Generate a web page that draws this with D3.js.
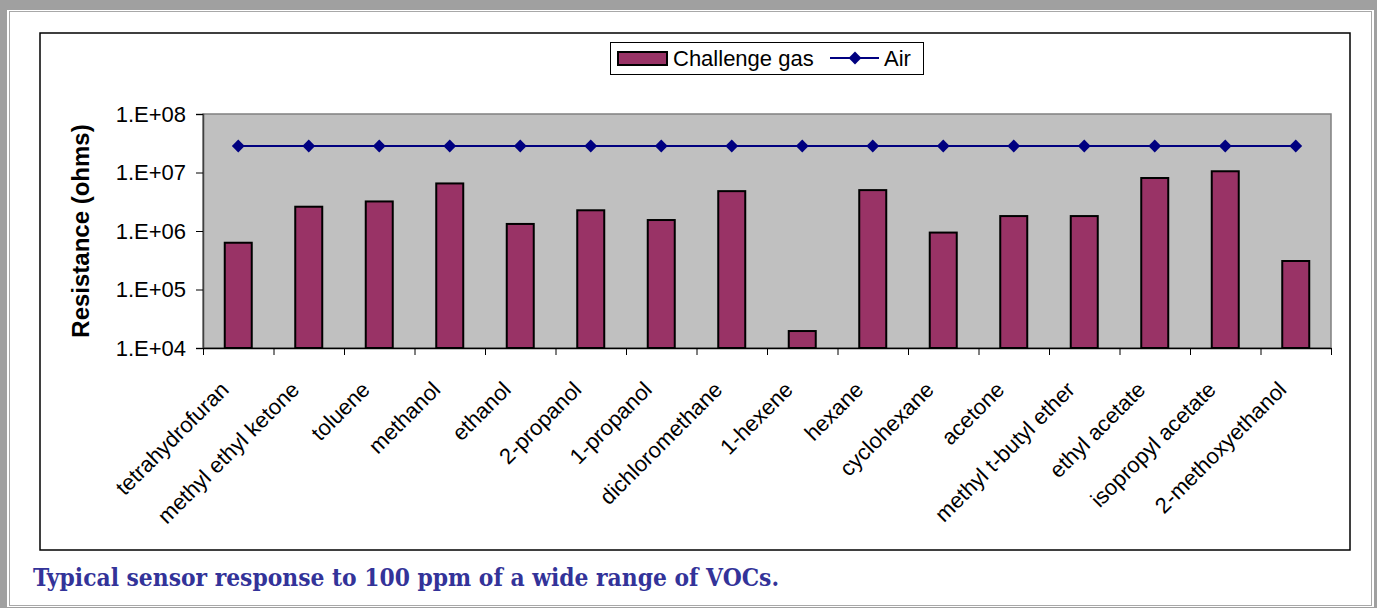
<!DOCTYPE html>
<html>
<head>
<meta charset="utf-8">
<script src="https://cdn.jsdelivr.net/npm/d3@7"></script>
<style>
  body { margin: 0; background: #fff; }
  svg { display: block; }
</style>
</head>
<body>
<div id="chart"></div>
<script>
(function () {

  // data
  var categories = ["tetrahydrofuran", "methyl ethyl ketone", "toluene", "methanol", "ethanol",
      "2-propanol", "1-propanol", "dichloromethane", "1-hexene", "hexane", "cyclohexane",
      "acetone", "methyl t-butyl ether", "ethyl acetate", "isopropyl acetate", "2-methoxyethanol"],
    challengeValues = [6.3e5, 2.6e6, 3.2e6, 6.5e6, 1.32e6, 2.26e6, 1.54e6, 4.8e6, 1.95e4,
      5.0e6, 9.4e5, 1.8e6, 1.8e6, 8.05e6, 1.05e7, 3.07e5],
    airValues = [2.84e7, 2.84e7, 2.84e7, 2.84e7, 2.84e7, 2.84e7, 2.84e7, 2.84e7, 2.84e7,
      2.84e7, 2.84e7, 2.84e7, 2.84e7, 2.84e7, 2.84e7, 2.84e7],
    yTickValues = [1e4, 1e5, 1e6, 1e7, 1e8],
    yTickLabels = ["1.E+04", "1.E+05", "1.E+06", "1.E+07", "1.E+08"],
    seriesNames = ["Challenge gas", "Air"],
    yTitle = "Resistance (ohms)",
    caption = "Typical sensor response to 100 ppm of a wide range of VOCs.",
    // page and plot geometry
    w = 1377,
    h = 608,
    plot = { left: 203, right: 1331, top: 114, bottom: 348 },
    barColor = "#993366",
    lineColor = "#000080",
    svg, x, xTicks, y;

  function createSvg() {
    svg = d3.select("#chart")
      .append("svg")
      .attr("width", w)
      .attr("height", h);
  }

  // ridge-like frame around the whole figure plus the black chart border
  function createFrame() {
    svg.append("rect")
      .attr("x", 0).attr("y", 0).attr("width", w).attr("height", h)
      .attr("fill", "#a0a0a0");
    svg.append("rect")
      .attr("x", 7).attr("y", 10).attr("width", w - 10).attr("height", h - 11)
      .attr("fill", "#fff");
    svg.append("rect")
      .attr("x", 9.5).attr("y", 11.5).attr("width", 1362).attr("height", 594)
      .attr("fill", "none")
      .attr("stroke", "#a8a8a8");
    svg.append("rect")
      .attr("x", 40).attr("y", 33).attr("width", 1310).attr("height", 517)
      .attr("fill", "none")
      .attr("stroke", "#000")
      .attr("stroke-width", 1.5);
  }

  function getScales() {
    x = d3.scaleBand()
      .domain(categories)
      .range([plot.left, plot.right])
      .paddingInner(0.617)
      .paddingOuter(0.3085);
    // category boundaries for the tick marks
    xTicks = d3.scaleLinear()
      .domain([0, categories.length])
      .range([plot.left, plot.right]);
    y = d3.scaleLog()
      .domain([1e4, 1e8])
      .range([plot.bottom, plot.top]);
  }

  function createPlotArea() {
    svg.append("rect")
      .attr("x", plot.left).attr("y", plot.top)
      .attr("width", plot.right - plot.left).attr("height", plot.bottom - plot.top)
      .attr("fill", "#c0c0c0")
      .attr("stroke", "#808080")
      .attr("stroke-width", 1.5);
  }

  function createBars() {
    svg.append("g")
      .selectAll("rect")
      .data(challengeValues)
      .enter().append("rect")
        .attr("x", function(d, i) { return x(categories[i]); })
        .attr("y", function(d) { return y(d); })
        .attr("width", x.bandwidth())
        .attr("height", function(d) { return plot.bottom - y(d); })
        .attr("fill", barColor)
        .attr("stroke", "#000")
        .attr("stroke-width", 2);
  }

  function createAirLine() {
    var line = d3.line()
      .x(function(d, i) { return x(categories[i]) + x.bandwidth() / 2; })
      .y(function(d) { return y(d); });

    svg.append("path")
      .datum(airValues)
      .attr("d", line)
      .attr("fill", "none")
      .attr("stroke", lineColor)
      .attr("stroke-width", 2);

    svg.append("g")
      .selectAll("path")
      .data(airValues)
      .enter().append("path")
        .attr("d", d3.symbol(d3.symbolSquare, 82))
        .attr("transform", function(d, i) {
          return "translate(" + (x(categories[i]) + x.bandwidth() / 2) + "," + y(d) + ") rotate(45)";
        })
        .attr("fill", lineColor);
  }

  function createAxes() {
    var yAxis = svg.append("g")
      .attr("transform", "translate(" + plot.left + ",0)")
      .call(d3.axisLeft(y)
        .tickValues(yTickValues)
        .tickFormat(function(d, i) { return yTickLabels[i]; })
        .tickSize(7)
        .tickPadding(10));
    yAxis.select(".domain").attr("stroke", "#404040").attr("stroke-width", 1.5);
    yAxis.selectAll("line").attr("stroke", "#000");
    yAxis.selectAll("text")
      .attr("font-family", "Arial, 'Liberation Sans', sans-serif")
      .attr("font-size", "22px")
      .attr("fill", "#000");

    var xAxis = svg.append("g")
      .attr("transform", "translate(0," + plot.bottom + ")")
      .call(d3.axisBottom(xTicks)
        .tickValues(d3.range(categories.length + 1))
        .tickFormat("")
        .tickSize(7)
        .tickSizeOuter(0));
    xAxis.select(".domain").attr("stroke", "#000").attr("stroke-width", 1.5);
    xAxis.selectAll("line").attr("stroke", "#000");

    // rotated category names
    svg.append("g")
      .selectAll("text")
      .data(categories)
      .enter().append("text")
        .text(function(d) { return d; })
        .attr("transform", function(d) {
          return "translate(" + (x(d) + x.bandwidth() / 2 - 8) + "," + (plot.bottom + 43) + ") rotate(-45)";
        })
        .attr("text-anchor", "end")
        .attr("font-family", "Arial, 'Liberation Sans', sans-serif")
        .attr("font-size", "22px")
        .attr("fill", "#000");

    svg.append("text")
      .text(yTitle)
      .attr("transform", "translate(89," + ((plot.top + plot.bottom) / 2) + ") rotate(-90)")
      .attr("text-anchor", "middle")
      .attr("font-family", "Arial, 'Liberation Sans', sans-serif")
      .attr("font-weight", "bold")
      .attr("font-size", "24px")
      .attr("fill", "#000");
  }

  function createLegend() {
    var legend = svg.append("g");
    legend.append("rect")
      .attr("x", 610.5).attr("y", 42.5).attr("width", 313).attr("height", 32)
      .attr("fill", "#fff")
      .attr("stroke", "#000");
    legend.append("rect")
      .attr("x", 618).attr("y", 52).attr("width", 49).attr("height", 13)
      .attr("fill", barColor)
      .attr("stroke", "#000")
      .attr("stroke-width", 2);
    legend.append("text")
      .text(seriesNames[0])
      .attr("x", 673).attr("y", 66)
      .attr("font-family", "Arial, 'Liberation Sans', sans-serif")
      .attr("font-size", "22px");
    legend.append("line")
      .attr("x1", 830).attr("x2", 879).attr("y1", 58).attr("y2", 58)
      .attr("stroke", lineColor)
      .attr("stroke-width", 2);
    legend.append("path")
      .attr("d", d3.symbol(d3.symbolSquare, 82))
      .attr("transform", "translate(855,58) rotate(45)")
      .attr("fill", lineColor);
    legend.append("text")
      .text(seriesNames[1])
      .attr("x", 884).attr("y", 66)
      .attr("font-family", "Arial, 'Liberation Sans', sans-serif")
      .attr("font-size", "22px");
  }

  function createCaption() {
    svg.append("text")
      .text(caption)
      .attr("x", 33).attr("y", 586)
      .attr("textLength", 746)
      .attr("lengthAdjust", "spacingAndGlyphs")
      .attr("font-family", "'DejaVu Serif', serif")
      .attr("font-weight", "bold")
      .attr("font-size", "24px")
      .attr("fill", "#333399");
  }

  function makeChart() {
    createSvg();
    createFrame();
    getScales();
    createPlotArea();
    createBars();
    createAirLine();
    createAxes();
    createLegend();
    createCaption();
  }

  makeChart();
})();
</script>
</body>
</html>
